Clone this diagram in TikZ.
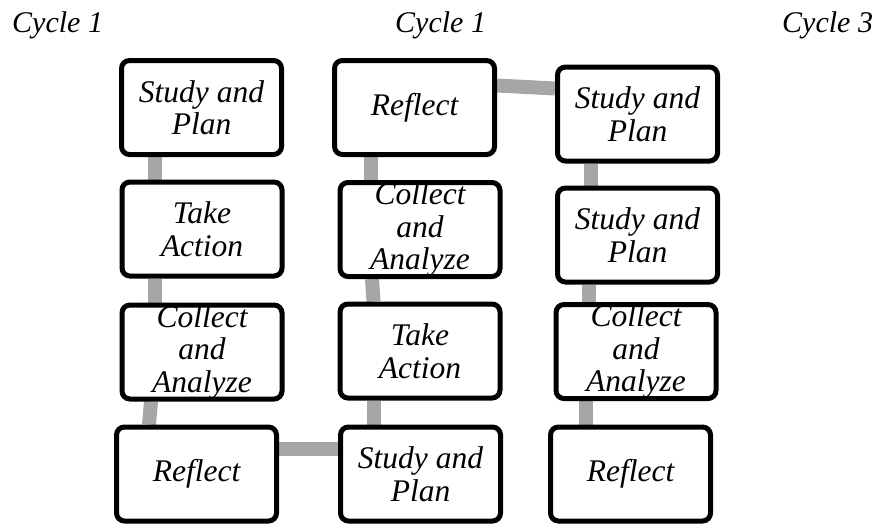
\documentclass[tikz,border=0pt]{standalone}
\usepackage{fontspec}
\setmainfont{Liberation Serif}[ItalicFont={Liberation Serif Italic}]
\usetikzlibrary{backgrounds}
\definecolor{linkgray}{HTML}{A6A6A6}
\tikzset{
  stage/.style={draw=black, line width=5pt, rounded corners=8pt, fill=white,
    minimum width=160pt, minimum height=94pt, inner sep=0pt, align=center,
    font=\itshape\fontsize{31.5}{32.5}\selectfont},
  link/.style={draw=linkgray, line width=14pt},
  cyclelabel/.style={font=\itshape\fontsize{30}{36}\selectfont, inner sep=0pt, anchor=base west}
}
\begin{document}
\begin{tikzpicture}[x=1pt,y=-1pt]
\useasboundingbox (0,0) rectangle (880,523);

% column headings
\node[cyclelabel] (h1) at (12,32) {Cycle 1};
\node[cyclelabel] (h2) at (395,32) {Cycle 1};
\node[cyclelabel] (h3) at (782,32) {Cycle 3};

% first column
\node[stage] (A1) at (201.5,107.5) {Study and\\Plan};
\node[stage] (A2) at (202,229) {Take\\Action};
\node[stage] (A3) at (202,352) {Collect\\and\\Analyze};
\node[stage] (A4) at (196.5,474) {Reflect};

% second column
\node[stage] (B1) at (414.5,107.5) {Reflect};
\node[stage] (B2) at (420,229.5) {Collect\\and\\Analyze};
\node[stage] (B3) at (420,351) {Take\\Action};
\node[stage] (B4) at (420.5,474) {Study and\\Plan};

% third column
\node[stage] (C1) at (637.5,114) {Study and\\Plan};
\node[stage] (C2) at (637.5,235) {Study and\\Plan};
\node[stage] (C3) at (636,351.5) {Collect\\and\\Analyze};
\node[stage] (C4) at (630.5,474) {Reflect};

% grey links behind the boxes
\begin{scope}[on background layer]
  \draw[link] ([xshift=-47pt]A1.south) -- ([xshift=-47.5pt]A2.north);
  \draw[link] ([xshift=-47.5pt]A2.south) -- ([xshift=-47.5pt]A3.north);
  \draw[link] ([xshift=-51pt]A3.south) -- ([xshift=-47.5pt]A4.north);
  \draw[link] ([yshift=25pt]A4.east) -- ([yshift=25pt]B4.west);
  \draw[link] ([xshift=-47pt]B4.north) -- ([xshift=-46.5pt]B3.south);
  \draw[link] ([xshift=-46.5pt]B3.north) -- ([xshift=-48pt]B2.south);
  \draw[link] ([xshift=-49.5pt]B2.north) -- ([xshift=-44pt]B1.south);
  \draw[link] ([yshift=22pt]B1.east) -- ([yshift=25.5pt]C1.west);
  \draw[link] ([xshift=-47pt]C1.south) -- ([xshift=-47pt]C2.north);
  \draw[link] ([xshift=-49pt]C2.south) -- ([xshift=-47.5pt]C3.north);
  \draw[link] ([xshift=-50.5pt]C3.south) -- ([xshift=-45pt]C4.north);
\end{scope}
\end{tikzpicture}
\end{document}
